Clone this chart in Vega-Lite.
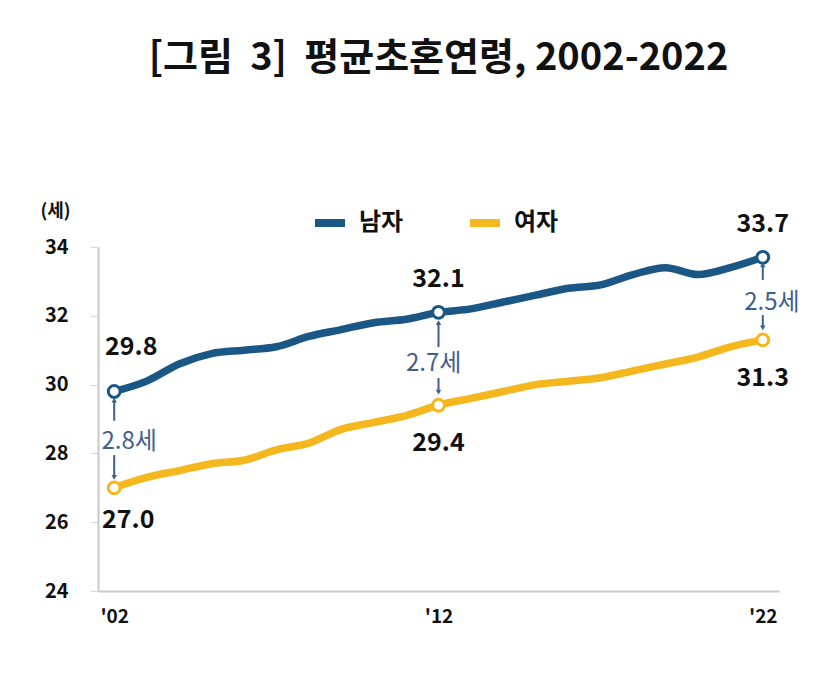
{
  "$schema": "https://vega.github.io/schema/vega-lite/v6.json",
  "autosize": "none",
  "width": 681,
  "height": 344,
  "padding": {"left": 98, "top": 247, "right": 59, "bottom": 85},
  "background": "white",
  "config": {
    "font": "Noto Sans CJK KR",
    "view": {"stroke": null}
  },
  "title": {
    "text": "[그림\u00a0\u00a03]\u00a0\u00a0평균초혼연령,\u00a02002-2022",
    "font": "Noto Sans CJK KR",
    "fontSize": 38,
    "fontWeight": "bold",
    "color": "#111111",
    "anchor": "middle",
    "frame": "group",
    "offset": 124
  },
  "datasets": {
    "series": [
      {"year": 2002, "sex": "남자", "age": 29.8},
      {"year": 2003, "sex": "남자", "age": 30.1},
      {"year": 2004, "sex": "남자", "age": 30.6},
      {"year": 2005, "sex": "남자", "age": 30.9},
      {"year": 2006, "sex": "남자", "age": 31.0},
      {"year": 2007, "sex": "남자", "age": 31.1},
      {"year": 2008, "sex": "남자", "age": 31.4},
      {"year": 2009, "sex": "남자", "age": 31.6},
      {"year": 2010, "sex": "남자", "age": 31.8},
      {"year": 2011, "sex": "남자", "age": 31.9},
      {"year": 2012, "sex": "남자", "age": 32.1},
      {"year": 2013, "sex": "남자", "age": 32.2},
      {"year": 2014, "sex": "남자", "age": 32.4},
      {"year": 2015, "sex": "남자", "age": 32.6},
      {"year": 2016, "sex": "남자", "age": 32.8},
      {"year": 2017, "sex": "남자", "age": 32.9},
      {"year": 2018, "sex": "남자", "age": 33.2},
      {"year": 2019, "sex": "남자", "age": 33.4},
      {"year": 2020, "sex": "남자", "age": 33.2},
      {"year": 2021, "sex": "남자", "age": 33.4},
      {"year": 2022, "sex": "남자", "age": 33.7},
      {"year": 2002, "sex": "여자", "age": 27.0},
      {"year": 2003, "sex": "여자", "age": 27.3},
      {"year": 2004, "sex": "여자", "age": 27.5},
      {"year": 2005, "sex": "여자", "age": 27.7},
      {"year": 2006, "sex": "여자", "age": 27.8},
      {"year": 2007, "sex": "여자", "age": 28.1},
      {"year": 2008, "sex": "여자", "age": 28.3},
      {"year": 2009, "sex": "여자", "age": 28.7},
      {"year": 2010, "sex": "여자", "age": 28.9},
      {"year": 2011, "sex": "여자", "age": 29.1},
      {"year": 2012, "sex": "여자", "age": 29.4},
      {"year": 2013, "sex": "여자", "age": 29.6},
      {"year": 2014, "sex": "여자", "age": 29.8},
      {"year": 2015, "sex": "여자", "age": 30.0},
      {"year": 2016, "sex": "여자", "age": 30.1},
      {"year": 2017, "sex": "여자", "age": 30.2},
      {"year": 2018, "sex": "여자", "age": 30.4},
      {"year": 2019, "sex": "여자", "age": 30.6},
      {"year": 2020, "sex": "여자", "age": 30.8},
      {"year": 2021, "sex": "여자", "age": 31.1},
      {"year": 2022, "sex": "여자", "age": 31.3}
    ],
    "gaps": [
      {"year": 2002, "lx": 2002.46, "ly": 28.33, "label": "2.8세", "upBase": 28.95, "upTip": 29.55, "downBase": 27.95, "downTip": 27.3},
      {"year": 2012, "lx": 2011.85, "ly": 30.6, "label": "2.7세", "upBase": 31.09, "upTip": 31.8, "downBase": 30.19, "downTip": 29.78},
      {"year": 2022, "lx": 2022.28, "ly": 32.37, "label": "2.5세", "upBase": 33.04, "upTip": 33.48, "downBase": 32.02, "downTip": 31.65}
    ]
  },
  "encoding": {
    "x": {
      "field": "year",
      "type": "quantitative",
      "scale": {"domain": [2001.5, 2022.5], "nice": false, "zero": false},
      "axis": {
        "values": [2002, 2012, 2022],
        "labelExpr": "\"'\" + substring(toString(datum.value), 2, 4)",
        "title": null,
        "grid": false,
        "ticks": false,
        "labelPadding": 16,
        "labelFontSize": 19,
        "labelFontWeight": "bold",
        "labelColor": "#111111",
        "labelBaseline": "top",
        "domainColor": "#c8c8c8",
        "domainWidth": 2
      }
    }
  },
  "layer": [
    {
      "data": {"name": "series"},
      "mark": {"type": "line", "interpolate": "monotone", "strokeWidth": 7.5, "strokeCap": "round", "strokeJoin": "round"},
      "encoding": {
        "y": {
          "field": "age",
          "type": "quantitative",
          "scale": {"domain": [24, 34], "nice": false, "zero": false},
          "axis": {
            "values": [24, 26, 28, 30, 32, 34],
            "title": "(세)",
            "titleAngle": 0,
            "titleX": -43,
            "titleY": -36,
            "titleAlign": "center",
            "titleBaseline": "middle",
            "titleFontSize": 18,
            "titleFontWeight": "bold",
            "titleColor": "#111111",
            "grid": false,
            "tickSize": 8,
            "tickColor": "#d8d8d8",
            "domainColor": "#c8c8c8",
            "domainWidth": 2,
            "labelPadding": 22,
            "labelFontSize": 20,
            "labelFontWeight": "bold",
            "labelColor": "#111111"
          }
        },
        "color": {
          "field": "sex",
          "type": "nominal",
          "scale": {"domain": ["남자", "여자"], "range": ["#1a5784", "#f4b71e"]},
          "legend": {
            "title": null,
            "orient": "none",
            "legendX": 213,
            "legendY": -43,
            "direction": "horizontal",
            "symbolType": "stroke",
            "symbolSize": 900,
            "symbolStrokeWidth": 8,
            "labelFontSize": 24,
            "labelFontWeight": "bold",
            "labelColor": "#111111",
            "labelOffset": 10,
            "columnPadding": 50
          }
        }
      }
    },
    {
      "data": {"name": "gaps"},
      "mark": {"type": "rule", "color": "#3f5f8c", "strokeWidth": 2},
      "encoding": {"y": {"field": "upBase", "type": "quantitative"}, "y2": {"field": "upTip"}}
    },
    {
      "data": {"name": "gaps"},
      "mark": {"type": "rule", "color": "#3f5f8c", "strokeWidth": 2},
      "encoding": {"y": {"field": "downBase", "type": "quantitative"}, "y2": {"field": "downTip"}}
    },
    {
      "data": {"name": "gaps"},
      "mark": {"type": "point", "shape": "triangle-up", "filled": true, "color": "#3f5f8c", "size": 30, "opacity": 1},
      "encoding": {"y": {"field": "upTip", "type": "quantitative"}}
    },
    {
      "data": {"name": "gaps"},
      "mark": {"type": "point", "shape": "triangle-down", "filled": true, "color": "#3f5f8c", "size": 30, "opacity": 1},
      "encoding": {"y": {"field": "downTip", "type": "quantitative"}}
    },
    {
      "data": {"name": "gaps"},
      "mark": {"type": "text", "fontSize": 24, "color": "#3f5f8c", "align": "center", "baseline": "middle"},
      "encoding": {
        "x": {"field": "lx", "type": "quantitative"},
        "y": {"field": "ly", "type": "quantitative"},
        "text": {"field": "label"}
      }
    },
    {
      "data": {"name": "series"},
      "transform": [{"filter": "datum.year == 2002 || datum.year == 2012 || datum.year == 2022"}],
      "mark": {"type": "point", "shape": "circle", "filled": true, "fill": "white", "strokeWidth": 3, "size": 140, "opacity": 1},
      "encoding": {
        "y": {"field": "age", "type": "quantitative"},
        "stroke": {"field": "sex", "type": "nominal", "scale": {"domain": ["남자", "여자"], "range": ["#1a5784", "#f4b71e"]}, "legend": null}
      }
    },
    {
      "data": {"name": "series"},
      "transform": [{"filter": "datum.sex == '남자' && datum.year == 2002"}],
      "mark": {"type": "text", "fontSize": 25, "fontWeight": "bold", "color": "#111111", "dx": 17, "dy": -44, "baseline": "middle"},
      "encoding": {"y": {"field": "age", "type": "quantitative"}, "text": {"field": "age", "format": ".1f"}}
    },
    {
      "data": {"name": "series"},
      "transform": [{"filter": "datum.sex == '남자' && (datum.year == 2012 || datum.year == 2022)"}],
      "mark": {"type": "text", "fontSize": 25, "fontWeight": "bold", "color": "#111111", "dy": -33, "baseline": "middle"},
      "encoding": {"y": {"field": "age", "type": "quantitative"}, "text": {"field": "age", "format": ".1f"}}
    },
    {
      "data": {"name": "series"},
      "transform": [{"filter": "datum.sex == '여자' && datum.year == 2002"}],
      "mark": {"type": "text", "fontSize": 25, "fontWeight": "bold", "color": "#111111", "dx": 14, "dy": 32, "baseline": "middle"},
      "encoding": {"y": {"field": "age", "type": "quantitative"}, "text": {"field": "age", "format": ".1f"}}
    },
    {
      "data": {"name": "series"},
      "transform": [{"filter": "datum.sex == '여자' && (datum.year == 2012 || datum.year == 2022)"}],
      "mark": {"type": "text", "fontSize": 25, "fontWeight": "bold", "color": "#111111", "dy": 38, "baseline": "middle"},
      "encoding": {"y": {"field": "age", "type": "quantitative"}, "text": {"field": "age", "format": ".1f"}}
    }
  ]
}
